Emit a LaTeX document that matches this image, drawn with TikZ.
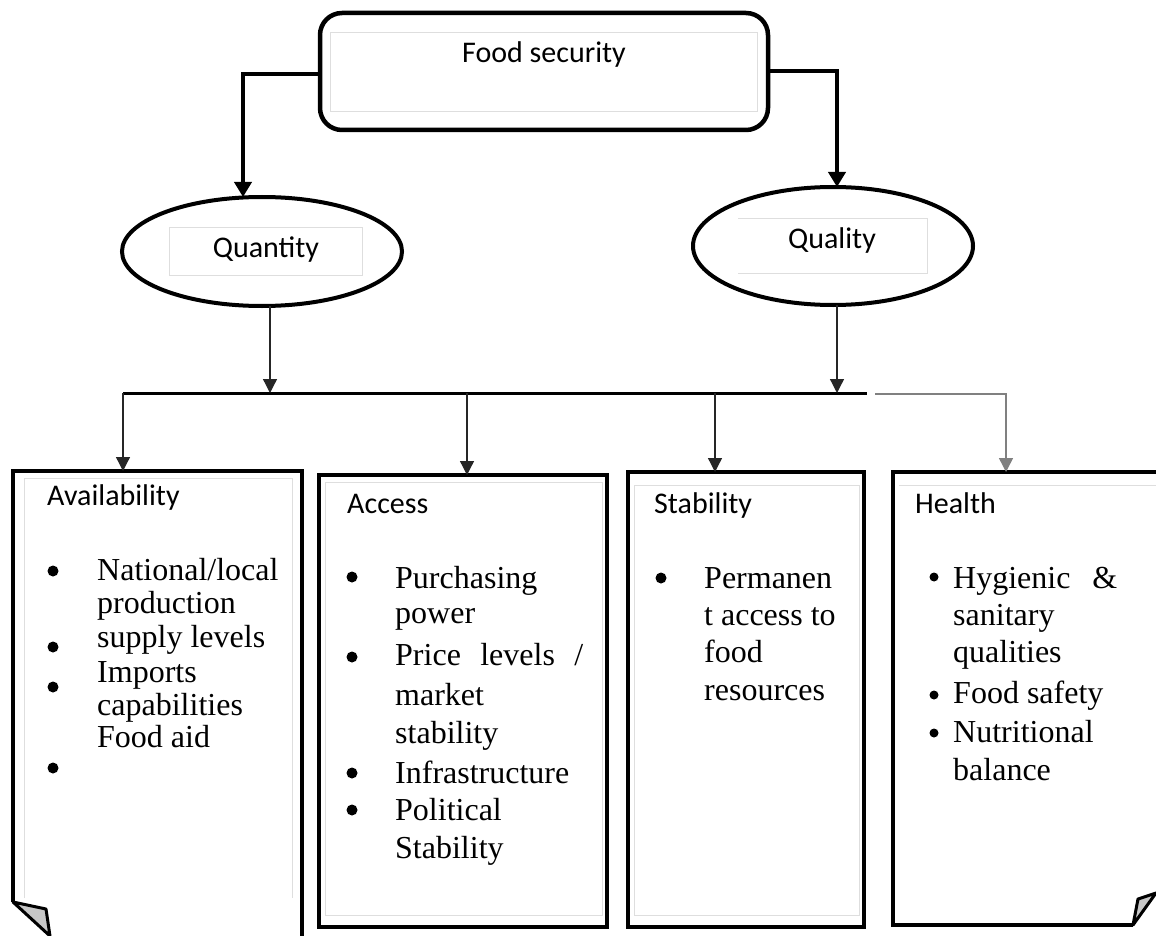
\documentclass[tikz,border=0pt]{standalone}
\usepackage{fontspec}
\setmainfont{Liberation Serif}
\newfontfamily\headfont{Carlito}
\usetikzlibrary{arrows.meta,shapes.geometric}
\tikzset{
  frame/.style={draw, line width=4pt, inner sep=0pt, outer sep=0pt, anchor=north west},
  innerline/.style={draw=black!13, line width=1pt},
  headtxt/.style={font=\headfont\fontsize{30}{36}\selectfont, inner sep=0pt, anchor=base west},
  headmid/.style={font=\headfont\fontsize{30}{36}\selectfont, inner sep=0pt, anchor=base},
  body/.style={font=\fontsize{32}{38}\selectfont, inner sep=0pt, anchor=base west},
  dot/.style={circle, fill=black, inner sep=0pt, minimum size=11pt},
  smalldot/.style={circle, fill=black, inner sep=0pt, minimum size=9pt},
  bigarrow/.style={line width=4pt, -{Triangle[length=15pt,width=17pt]}},
  thinarrow/.style={line width=1.3pt, draw=black!85, -{Triangle[length=14pt,width=14pt]}},
  grayarrow/.style={line width=1.5pt, draw=black!50, -{Triangle[length=14pt,width=14pt]}},
  oval/.style={draw, ellipse, line width=4pt, inner sep=0pt, outer sep=0pt, minimum width=280pt},
  flap/.style={fill=black!22, draw=black, line width=3pt, line join=round},
}
\begin{document}
\begin{tikzpicture}[x=1pt,y=-1pt]
\useasboundingbox (0,0) rectangle (1156,936);
\clip (0,0) rectangle (1156,936);

% top box
\node[draw, rounded corners=22pt, line width=4.5pt, minimum width=448pt, minimum height=117pt, inner sep=0pt, outer sep=0pt] (fs) at (544,71.5) {};
\draw[innerline] (330,33) rectangle (757,112);
\node[headmid] (fst) at (544,63) {Food security};

% ovals
\node[oval, minimum height=109pt] (qn) at (262,251.5) {};
\draw[innerline] (169,227) rectangle (362,275);
\node[headmid] (qnt) at (266,257) {Quantity};
\node[oval, minimum height=118pt] (ql) at (833,246) {};
\draw[innerline] (738,218) -- (927,218) -- (927,273) -- (738,273);
\node[headmid] (qlt) at (832,248) {Quality};

% arrows from top box
\draw[bigarrow] ([yshift=-2.5pt]fs.west) -| ([xshift=-19pt]qn.north);
\draw[bigarrow] (fs.east) -| ([xshift=4pt]ql.north);

% bar
\coordinate (bl) at (123,393);
\coordinate (br) at (867,393);
\coordinate (b2) at (467,393);
\coordinate (b3) at (715,393);
\coordinate (g1) at (875,394);
\coordinate (g2) at (1006,394);
\draw[line width=3pt] (bl) -- (br);
\draw[thinarrow] ([xshift=8pt]qn.south) -- ([xshift=8pt]qn.south |- bl);
\draw[thinarrow] ([xshift=4pt]ql.south) -- ([xshift=4pt]ql.south |- br);

% boxes
\node[frame, minimum width=289pt, minimum height=480pt] (av) at (13,471) {};
\node[frame, minimum width=288pt, minimum height=452pt] (ac) at (319,475) {};
\node[frame, minimum width=236pt, minimum height=455pt] (stb) at (628,472) {};
\node[frame, minimum width=290pt, minimum height=453pt] (he) at (893,472) {};

\draw[innerline] (24,898) -- (24,478) -- (292,478) -- (292,898);
\draw[innerline] (325,482) rectangle (602,915);
\draw[innerline] (634,485) rectangle (859,915);
\draw[innerline] (899,485) -- (1156,485);

% connectors from bar
\draw[thinarrow] (bl) -- (bl |- av.north);
\draw[thinarrow] (b2) -- (b2 |- ac.north);
\draw[thinarrow] (b3) -- (b3 |- stb.north);
\draw[grayarrow] (g1) -- (g2) -- (g2 |- he.north);

% folded corners
\fill[white] (13,902) -- (59.8,945) -- (4,945) -- (4,902) -- cycle;
\draw[flap] (13,902) -- (46,909) -- (50,936) -- cycle;
\fill[white] (1133,925) -- (1160,886.3) -- (1170,886) -- (1170,940) -- (1133,940) -- cycle;
\draw[flap] (1133,925) -- (1138,899) -- (1156,893) -- cycle;

% Availability
\node[headtxt] (avh) at (47,505) {Availability};
\node[dot] (avd1) at (53,571) {};
\node[dot] (avd2) at (53,647) {};
\node[dot] (avd3) at (53,687) {};
\node[dot] (avd4) at (53,768) {};
\node[body] (av1) at (97,580) {National/local};
\node[body] (av2) at (97,613) {production};
\node[body] (av3) at (97,647) {supply levels};
\node[body] (av4) at (97,682) {Imports};
\node[body] (av5) at (97,715) {capabilities};
\node[body] (av6) at (97,747) {Food aid};

% Access
\node[headtxt] (ach) at (347,513) {Access};
\node[dot] (acd1) at (352,577) {};
\node[dot] (acd2) at (352,657) {};
\node[dot] (acd3) at (352,773) {};
\node[dot] (acd4) at (352,810) {};
\node[body] (ac1) at (395,588) {Purchasing};
\node[body] (ac2) at (395,623) {power};
\node[body] (ac3) at (395,665) {\makebox[188pt][s]{Price levels /}};
\node[body] (ac4) at (395,705) {market};
\node[body] (ac5) at (395,743) {stability};
\node[body] (ac6) at (395,783) {Infrastructure};
\node[body] (ac7) at (395,820) {Political};
\node[body] (ac8) at (395,858) {Stability};

% Stability
\node[headtxt] (sth) at (654,513) {Stability};
\node[dot] (std1) at (661,578) {};
\node[body] (st1) at (704,588) {Permanen};
\node[body] (st2) at (704,625) {t access to};
\node[body] (st3) at (704,662) {food};
\node[body] (st4) at (704,700) {resources};

% Health
\node[headtxt] (heh) at (915,513) {Health};
\node[smalldot] (hed1) at (934,577) {};
\node[smalldot] (hed2) at (934,695) {};
\node[smalldot] (hed3) at (934,733) {};
\node[body] (he1) at (953,588) {\makebox[164pt][s]{Hygienic \&}};
\node[body] (he2) at (953,625) {sanitary};
\node[body] (he3) at (953,662) {qualities};
\node[body] (he4) at (953,703) {Food safety};
\node[body] (he5) at (953,742) {Nutritional};
\node[body] (he6) at (953,780) {balance};
\end{tikzpicture}
\end{document}
